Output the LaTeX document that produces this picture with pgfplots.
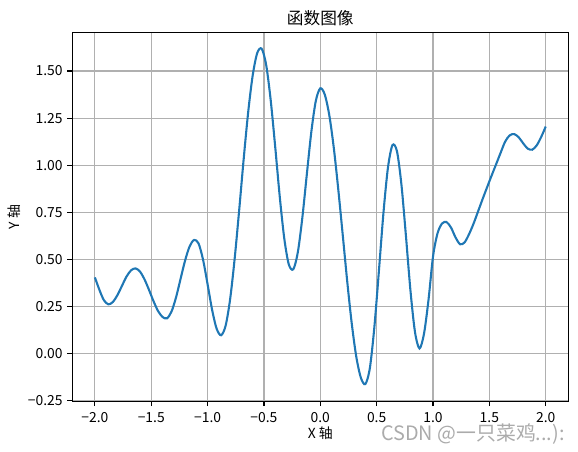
\documentclass[border=0pt]{standalone}
\usepackage{fontspec}
\setmainfont{Noto Sans CJK SC}
\usepackage{pgfplots}
\pgfplotsset{compat=1.18}
\definecolor{mplblue}{HTML}{1F77B4}
\definecolor{mplgrid}{HTML}{B0B0B0}
\begin{document}
\begin{tikzpicture}
\path[use as bounding box] (-52.1pt,-35.8pt) rectangle (364.1pt,289.0pt);
\begin{axis}[
  at={(0,0)}, anchor=south west,
  scale only axis, width=357.1pt, height=265.7pt,
  xmin=-2.2, xmax=2.2, ymin=-0.254, ymax=1.705,
  xtick={-2,-1.5,-1,-0.5,0,0.5,1,1.5,2},
  xticklabels={−2.0,−1.5,−1.0,−0.5,0.0,0.5,1.0,1.5,2.0},
  ytick={-0.25,0,0.25,0.5,0.75,1,1.25,1.5},
  yticklabels={−0.25,0.00,0.25,0.50,0.75,1.00,1.25,1.50},
  tick pos=left, tick align=outside, major tick length=3.5pt,
  every tick/.style={black, line width=0.8pt},
  axis line style={line width=0.8pt},
  grid=major, major grid style={mplgrid, line width=0.8pt},
  tick label style={font=\fontsize{10}{12}\selectfont},
  xticklabel style={inner sep=0.5pt, yshift=-3.8pt},
  title={函数图像},
  title style={font=\fontsize{12}{14}\selectfont, at={(axis description cs:0.5,1)}, anchor=center, yshift=4pt},
  xlabel={X 轴}, ylabel={Y 轴},
  label style={font=\fontsize{10}{12}\selectfont},
  every axis x label/.style={at={(axis description cs:0.5,0)}, anchor=center, yshift=-23.3pt},
  every axis y label/.style={at={(axis description cs:-0.1176,0.5)}, anchor=center, rotate=90},
]
\addplot[mplblue, line width=1.5pt, smooth] coordinates {
(-2.00,0.404) (-1.96,0.338) (-1.92,0.283) (-1.88,0.261) (-1.84,0.274)
(-1.80,0.310) (-1.76,0.359) (-1.72,0.408) (-1.68,0.441) (-1.64,0.452)
(-1.60,0.435) (-1.56,0.394) (-1.52,0.338) (-1.48,0.278) (-1.44,0.226)
(-1.40,0.194) (-1.36,0.187) (-1.32,0.223) (-1.28,0.298) (-1.24,0.396)
(-1.20,0.493) (-1.16,0.568) (-1.12,0.603) (-1.08,0.584) (-1.04,0.497)
(-1.00,0.367) (-0.96,0.232) (-0.92,0.132) (-0.88,0.097) (-0.84,0.148)
(-0.80,0.289) (-0.76,0.503) (-0.72,0.760) (-0.68,1.032) (-0.64,1.281)
(-0.60,1.476) (-0.56,1.595) (-0.52,1.618) (-0.48,1.531) (-0.44,1.344)
(-0.40,1.096) (-0.36,0.834) (-0.32,0.612) (-0.28,0.474) (-0.24,0.447)
(-0.20,0.536) (-0.16,0.718) (-0.12,0.949) (-0.08,1.175) (-0.04,1.341)
(0.00,1.408) (0.04,1.374) (0.08,1.264) (0.12,1.090) (0.16,0.868)
(0.20,0.623) (0.24,0.376) (0.28,0.154) (0.32,-0.020) (0.36,-0.129)
(0.40,-0.162) (0.44,-0.076) (0.48,0.143) (0.52,0.439) (0.56,0.745)
(0.60,0.986) (0.64,1.106) (0.68,1.074) (0.72,0.895) (0.76,0.622)
(0.80,0.333) (0.84,0.114) (0.88,0.027) (0.92,0.105) (0.96,0.285)
(1.00,0.515) (1.04,0.638) (1.08,0.690) (1.12,0.698) (1.16,0.668)
(1.20,0.616) (1.24,0.580) (1.28,0.590) (1.32,0.634) (1.36,0.690)
(1.40,0.755) (1.44,0.820) (1.48,0.883) (1.52,0.945) (1.56,1.005)
(1.60,1.066) (1.64,1.125) (1.68,1.158) (1.72,1.165) (1.76,1.148)
(1.80,1.116) (1.84,1.088) (1.88,1.082) (1.92,1.105) (1.96,1.150)
(2.00,1.205)
};
\end{axis}
\node[anchor=east, inner sep=0pt, text=black!33, font=\fontsize{14.3}{16}\selectfont, xshift=-2.4pt, yshift=-23.8pt] at (current axis.south east) {CSDN @一只菜鸡...):};
\end{tikzpicture}
\end{document}
